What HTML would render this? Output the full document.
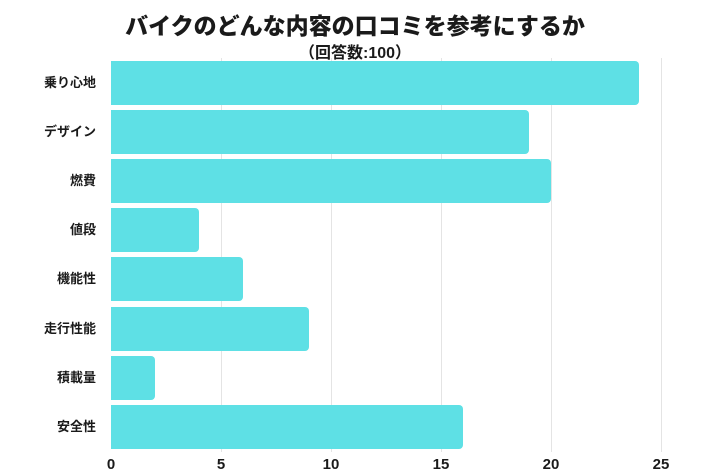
<!DOCTYPE html>
<html><head><meta charset="utf-8"><style>
body{margin:0;width:710px;height:474px;background:#fff;position:relative;overflow:hidden;font-family:"Liberation Sans","Noto Sans CJK JP",sans-serif;font-weight:bold;color:#1a1a1a}
.t{position:absolute;left:0;width:710px;text-align:center}
.g{position:absolute;top:58px;height:394px;width:1px;background:#e4e4e4}
.b{position:absolute;left:111px;height:44px;background:#5ee0e5;border-radius:0 4px 4px 0}
.l{position:absolute;right:614px;font-size:13px;line-height:44px;white-space:nowrap}
.x{position:absolute;top:456px;font-size:15px;width:40px;margin-left:-20px;text-align:center}
</style></head><body>
<div class="t" style="top:7px;font-size:23px;font-weight:900">バイクのどんな内容の口コミを参考にするか</div>
<div class="t" style="top:39px;font-size:16px">（回答数:100）</div>
<div class="g" style="left:221px"></div><div class="g" style="left:331px"></div><div class="g" style="left:441px"></div><div class="g" style="left:551px"></div><div class="g" style="left:661px"></div>
<div class="b" style="top:61px;width:528px"></div><div class="l" style="top:61px">乗り心地</div>
<div class="b" style="top:110px;width:418px"></div><div class="l" style="top:110px">デザイン</div>
<div class="b" style="top:159px;width:440px"></div><div class="l" style="top:159px">燃費</div>
<div class="b" style="top:208px;width:88px"></div><div class="l" style="top:208px">値段</div>
<div class="b" style="top:257px;width:132px"></div><div class="l" style="top:257px">機能性</div>
<div class="b" style="top:307px;width:198px"></div><div class="l" style="top:307px">走行性能</div>
<div class="b" style="top:356px;width:44px"></div><div class="l" style="top:356px">積載量</div>
<div class="b" style="top:405px;width:352px"></div><div class="l" style="top:405px">安全性</div>
<div class="x" style="left:111px">0</div><div class="x" style="left:221px">5</div><div class="x" style="left:331px">10</div><div class="x" style="left:441px">15</div><div class="x" style="left:551px">20</div><div class="x" style="left:661px">25</div>
</body></html>
